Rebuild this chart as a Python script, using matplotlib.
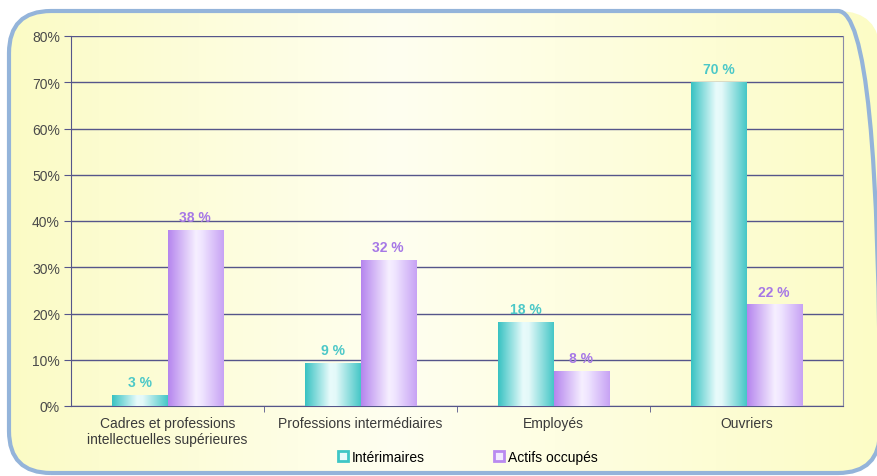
import matplotlib.pyplot as plt
import numpy as np
from matplotlib.colors import LinearSegmentedColormap
from matplotlib.patches import FancyBboxPatch, Patch
from matplotlib.transforms import IdentityTransform

categories = ['Cadres et professions\nintellectuelles supérieures',
              'Professions intermédiaires', 'Employés', 'Ouvriers']
interimaires = [2.4, 9.3, 18.2, 70.1]
actifs = [38.1, 31.6, 7.6, 22.0]
interimaires_labels = ['3 %', '9 %', '18 %', '70 %']
actifs_labels = ['38 %', '32 %', '8 %', '22 %']
series_names = ['Intérimaires', 'Actifs occupés']

teal = '#3fc6c6'
purple = '#b98af0'
teal_text = '#4cc8c8'
purple_text = '#a678e6'
teal_cmap = LinearSegmentedColormap.from_list(
    't', [(0, '#38c2c2'), (0.45, '#e8fbfb'), (0.55, '#e4f9f9'), (1, '#45c7c7')])
purple_cmap = LinearSegmentedColormap.from_list(
    'p', [(0, '#b585ee'), (0.5, '#f6efff'), (0.6, '#f0e6ff'), (1, '#c7a2f4')])
bg_cmap = LinearSegmentedColormap.from_list(
    'bg', [(0, '#fbfbc4'), (0.45, '#fffff0'), (1, '#fcfcc6')])

plt.rcParams['font.family'] = ['Liberation Sans', 'DejaVu Sans']

fig = plt.figure(figsize=(8.77, 4.77), dpi=100)
fig.patch.set_facecolor('white')

# rounded frame with yellow gradient
box = dict(boxstyle='round,pad=0,rounding_size=42', transform=IdentityTransform())
frame_clip = FancyBboxPatch((9, 3), 871, 462, facecolor='none', edgecolor='none', **box)
frame = FancyBboxPatch((9, 3), 871, 462, facecolor='none', edgecolor='#94b4da',
                       linewidth=3, zorder=2, **box)
bgax = fig.add_axes([0, 0, 1, 1], zorder=-1)
bgax.axis('off')
grad = np.linspace(0, 1, 256).reshape(1, -1)
im = bgax.imshow(grad, cmap=bg_cmap, aspect='auto', extent=[0, 1, 0, 1])
fig.add_artist(frame_clip)
im.set_clip_path(frame_clip)
fig.add_artist(frame)

ax = fig.add_axes([71 / 877, 70 / 477, 772 / 877, 370 / 477])
ax.patch.set_alpha(0)

x = np.arange(len(categories))
w = 0.285
b1 = ax.bar(x - w / 2, interimaires, w, color='none', zorder=3)
b2 = ax.bar(x + w / 2, actifs, w, color='none', zorder=3)

for bars, cmap in [(b1, teal_cmap), (b2, purple_cmap)]:
    for bar in bars:
        x0, wb, h = bar.get_x(), bar.get_width(), bar.get_height()
        img = ax.imshow(grad, cmap=cmap, aspect='auto',
                        extent=[x0, x0 + wb, 0, h], zorder=3)
        img.set_clip_path(bar)

for bars, labels, col in [(b1, interimaires_labels, teal_text),
                          (b2, actifs_labels, purple_text)]:
    for bar, lab in zip(bars, labels):
        ax.annotate(lab, (bar.get_x() + bar.get_width() / 2, bar.get_height()),
                    xytext=(0, 4), textcoords='offset points', ha='center',
                    va='bottom', fontsize=10, fontweight='bold', color=col)

ax.set_xlim(-0.5, 3.5)
ax.set_ylim(0, 80)
ax.set_yticks(range(0, 81, 10))
ax.set_yticklabels([f'{v}%' for v in range(0, 81, 10)])
ax.yaxis.grid(True, color='#55558a', linewidth=1)
ax.set_axisbelow(True)
ax.set_xticks(x)
ax.set_xticklabels(categories, fontsize=10, color='#3a3a3a')
ax.set_xticks([0.5, 1.5, 2.5], minor=True)
ax.tick_params(axis='x', which='major', length=0, pad=7)
ax.tick_params(axis='x', which='minor', length=4, color='#55558a')
ax.tick_params(axis='y', length=5, color='#55558a', labelsize=10,
               labelcolor='#4a4a4a', pad=3)
for s in ['left', 'bottom']:
    ax.spines[s].set_color('#55558a')
ax.spines['top'].set_visible(False)
ax.spines['right'].set_color('#8a8aa8')

handles = [Patch(facecolor='#e8fbfb', edgecolor=teal, linewidth=2),
           Patch(facecolor='#f2eaff', edgecolor=purple, linewidth=2)]
fig.legend(handles, series_names, loc='center', bbox_to_anchor=(468 / 877, 1 - 458 / 477),
           ncol=2, frameon=False, fontsize=10, handlelength=0.7, handleheight=0.7,
           handletextpad=0.3, columnspacing=5.0)

fig.savefig('out.png', dpi=100)
